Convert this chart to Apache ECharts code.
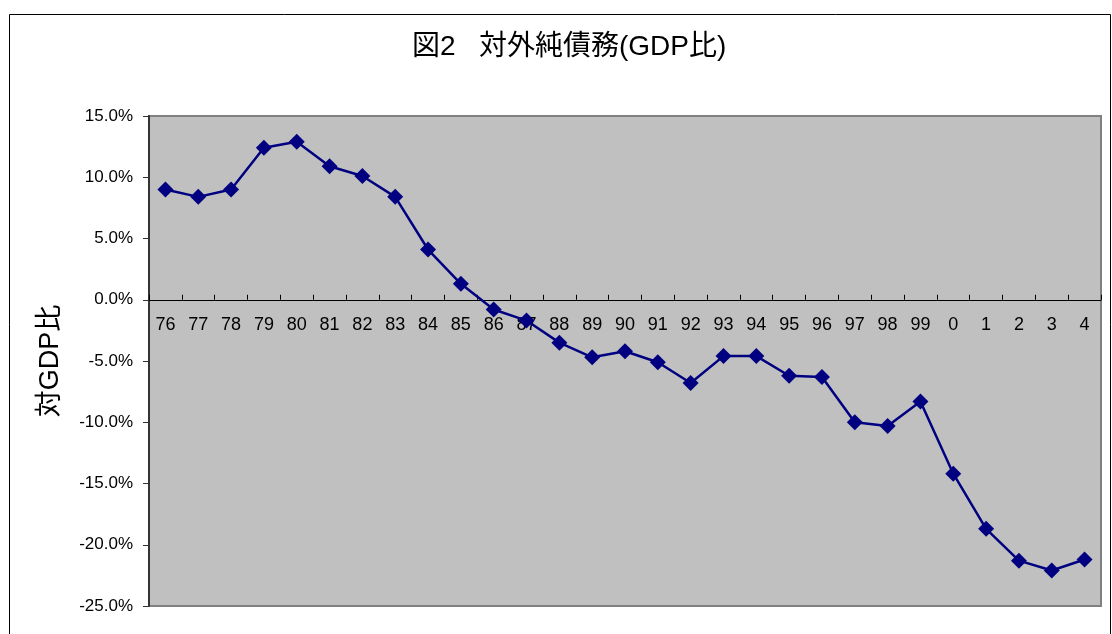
<!DOCTYPE html>
<html><head><meta charset="utf-8">
<script src="https://cdn.jsdelivr.net/npm/echarts@6/dist/echarts.min.js"></script>
<style>html,body{margin:0;padding:0;background:#fff}#c{width:1112px;height:634px}</style>
</head><body><div id="c"></div>
<script>
const categories = ['76','77','78','79','80','81','82','83','84','85','86','87','88','89','90','91','92','93','94','95','96','97','98','99','0','1','2','3','4'];
const netDebtRatio = [9.0,8.4,9.0,12.4,12.9,10.9,10.1,8.4,4.1,1.3,-0.8,-1.7,-3.5,-4.7,-4.2,-5.1,-6.8,-4.6,-4.6,-6.2,-6.3,-10.0,-10.3,-8.3,-14.2,-18.7,-21.3,-22.1,-21.2];
const yTicks = {min:-25, max:15, interval:5};
const titleText = '図2   対外純債務(GDP比)';
const yName = '対GDP比';

const font = '"Liberation Sans", Arial, "Noto Sans CJK JP", sans-serif';
const gridTop = 116, gridBottom = 28, H = 634;
const plotH = H - gridTop - gridBottom;
// shift the x axis from the bottom edge up to the zero line
const zeroOffset = -plotH * (0 - yTicks.min) / (yTicks.max - yTicks.min);
const chart = echarts.init(document.getElementById('c'));
chart.setOption({
  animation:false,
  graphic:[{type:'rect', shape:{x:9.5,y:14.5,width:1101,height:640}, style:{fill:'none', stroke:'#000', lineWidth:1}, z:-10}],
  title:{text:titleText, left:412, top:33, padding:0, textStyle:{fontFamily:font, fontSize:28, fontWeight:'normal', color:'#000'}},
  grid:{left:149, top:gridTop, right:11, bottom:gridBottom, show:true, backgroundColor:'#C0C0C0', borderColor:'#808080', borderWidth:2},
  xAxis:{type:'category', data:categories, boundaryGap:true, position:'bottom', offset:zeroOffset,
    axisLine:{onZero:false, lineStyle:{color:'#000', width:1}},
    axisTick:{show:true, inside:true, length:5, alignWithLabel:false, lineStyle:{color:'#000'}},
    axisLabel:{interval:0, margin:16, fontFamily:font, fontSize:18, color:'#000'}},
  yAxis:{type:'value', min:yTicks.min, max:yTicks.max, interval:yTicks.interval,
    name:yName, nameLocation:'middle', nameRotate:90, nameGap:85,
    nameTextStyle:{fontFamily:font, fontSize:27, color:'#000'},
    splitLine:{show:false},
    axisLine:{show:true, lineStyle:{color:'#333', width:2}},
    axisTick:{show:true, inside:false, length:6, lineStyle:{color:'#333'}},
    axisLabel:{margin:16, fontFamily:font, fontSize:17, color:'#000', formatter:v=>v.toFixed(1)+'%'}},
  series:[{type:'line', data:netDebtRatio, symbol:'diamond', symbolSize:16, z:5,
    lineStyle:{color:'#000080', width:2.5}, itemStyle:{color:'#000080'}}]
});
</script></body></html>
